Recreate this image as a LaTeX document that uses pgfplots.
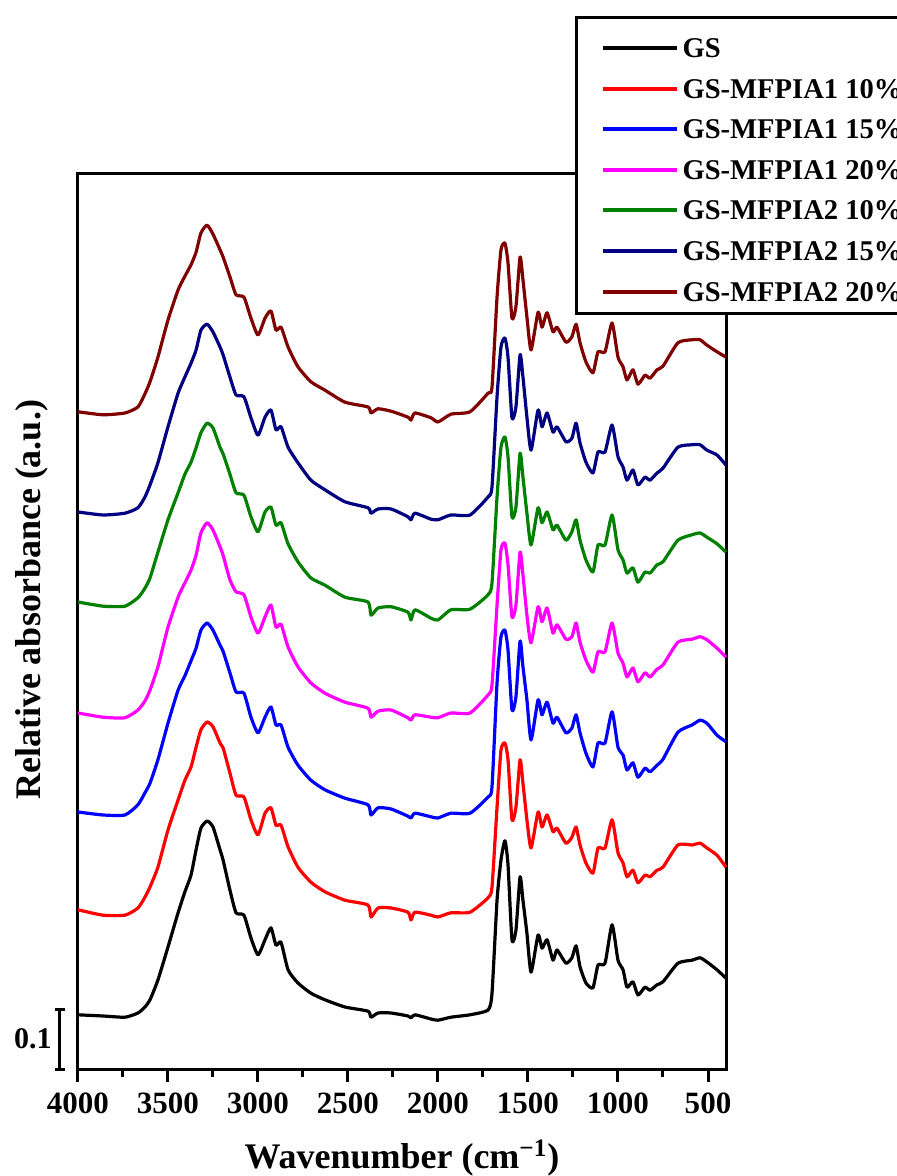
\documentclass[border=0pt]{standalone}
\usepackage{fontspec}
\setmainfont{Liberation Serif}
\usepackage{pgfplots}
\usepackage{pgfplotstable}
\pgfplotsset{compat=1.18}
\definecolor{cGreen}{RGB}{0,128,0}
\definecolor{cNavy}{RGB}{0,0,128}
\definecolor{cMaroon}{RGB}{128,0,0}
\definecolor{cRed}{RGB}{255,0,0}
\definecolor{cBlue}{RGB}{0,0,255}
\definecolor{cMag}{RGB}{255,0,255}

% wavenumber, stacked absorbance (a.u.) of the seven spectra
\pgfplotstableread{
wn gs aa ab ac ba bb bc
4000 0.092 0.267 0.430 0.595 0.780 0.930 1.097
3861 0.090 0.258 0.425 0.588 0.773 0.925 1.092
3739 0.088 0.258 0.425 0.587 0.773 0.928 1.095
3667 0.095 0.270 0.442 0.600 0.787 0.937 1.105
3628 0.105 0.288 0.462 0.615 0.803 0.955 1.127
3600 0.117 0.305 0.478 0.633 0.820 0.975 1.147
3556 0.150 0.338 0.517 0.672 0.863 1.012 1.188
3500 0.205 0.400 0.578 0.738 0.917 1.072 1.250
3444 0.262 0.450 0.633 0.788 0.962 1.128 1.300
3406 0.297 0.483 0.657 0.812 0.993 1.155 1.323
3372 0.325 0.505 0.682 0.833 1.013 1.178 1.342
3344 0.367 0.538 0.703 0.858 1.037 1.200 1.363
3317 0.403 0.567 0.733 0.895 1.062 1.233 1.395
3283 0.415 0.580 0.745 0.912 1.078 1.243 1.408
3250 0.405 0.572 0.733 0.900 1.070 1.230 1.393
3211 0.367 0.545 0.708 0.872 1.038 1.205 1.367
3194 0.350 0.537 0.698 0.858 1.027 1.192 1.355
3156 0.300 0.495 0.662 0.817 0.993 1.155 1.322
3122 0.262 0.458 0.630 0.797 0.962 1.125 1.292
3078 0.258 0.455 0.628 0.792 0.958 1.122 1.288
3039 0.220 0.417 0.588 0.755 0.922 1.087 1.253
3000 0.192 0.392 0.562 0.728 0.897 1.058 1.225
2961 0.217 0.428 0.588 0.755 0.930 1.088 1.253
2928 0.237 0.437 0.605 0.775 0.938 1.100 1.265
2900 0.208 0.408 0.575 0.738 0.908 1.067 1.233
2872 0.213 0.408 0.575 0.743 0.912 1.072 1.238
2833 0.167 0.372 0.538 0.705 0.877 1.038 1.205
2778 0.145 0.338 0.508 0.672 0.847 1.012 1.172
2706 0.128 0.313 0.483 0.645 0.820 0.983 1.147
2628 0.117 0.297 0.467 0.628 0.808 0.967 1.133
2517 0.105 0.283 0.453 0.613 0.788 0.947 1.113
2389 0.098 0.275 0.442 0.603 0.780 0.937 1.105
2372 0.088 0.255 0.425 0.588 0.758 0.928 1.095
2333 0.095 0.270 0.437 0.598 0.770 0.935 1.102
2261 0.095 0.270 0.435 0.600 0.772 0.935 1.098
2167 0.090 0.263 0.423 0.587 0.763 0.922 1.088
2150 0.087 0.250 0.420 0.583 0.750 0.917 1.083
2128 0.092 0.263 0.428 0.592 0.767 0.928 1.095
2039 0.085 0.258 0.422 0.588 0.753 0.918 1.087
2000 0.083 0.255 0.420 0.587 0.750 0.917 1.080
1928 0.088 0.262 0.428 0.595 0.767 0.925 1.093
1822 0.092 0.263 0.428 0.595 0.768 0.925 1.097
1722 0.100 0.287 0.455 0.625 0.792 0.955 1.128
1700 0.128 0.305 0.472 0.642 0.812 0.972 1.138
1672 0.283 0.438 0.645 0.775 0.955 1.122 1.288
1650 0.350 0.533 0.722 0.867 1.038 1.205 1.367
1628 0.382 0.545 0.733 0.878 1.055 1.220 1.378
1611 0.342 0.517 0.700 0.842 1.022 1.188 1.345
1589 0.217 0.417 0.600 0.755 0.922 1.087 1.253
1567 0.233 0.438 0.622 0.775 0.938 1.105 1.272
1544 0.322 0.517 0.715 0.863 1.028 1.192 1.355
1528 0.283 0.478 0.672 0.825 0.988 1.155 1.317
1506 0.228 0.417 0.617 0.758 0.928 1.088 1.255
1483 0.163 0.370 0.550 0.712 0.875 1.033 1.200
1444 0.225 0.430 0.617 0.772 0.937 1.100 1.263
1422 0.203 0.405 0.592 0.747 0.912 1.072 1.238
1394 0.217 0.425 0.613 0.770 0.930 1.095 1.262
1361 0.183 0.397 0.578 0.728 0.900 1.063 1.230
1339 0.200 0.403 0.588 0.742 0.908 1.072 1.238
1289 0.178 0.378 0.562 0.718 0.883 1.047 1.213
1256 0.187 0.388 0.570 0.722 0.897 1.053 1.222
1233 0.207 0.405 0.592 0.745 0.917 1.078 1.243
1211 0.172 0.375 0.562 0.713 0.883 1.045 1.212
1178 0.145 0.345 0.528 0.683 0.850 1.013 1.180
1139 0.137 0.328 0.505 0.663 0.830 0.995 1.162
1111 0.175 0.370 0.545 0.697 0.875 1.030 1.197
1072 0.178 0.370 0.545 0.697 0.875 1.030 1.197
1033 0.242 0.417 0.597 0.745 0.925 1.075 1.245
1000 0.183 0.362 0.538 0.695 0.867 1.022 1.188
972 0.167 0.345 0.525 0.678 0.850 1.005 1.172
950 0.138 0.322 0.500 0.655 0.828 0.983 1.150
917 0.147 0.333 0.512 0.670 0.837 1.000 1.167
889 0.125 0.312 0.488 0.647 0.813 0.975 1.143
850 0.138 0.325 0.503 0.662 0.830 0.988 1.158
822 0.133 0.322 0.497 0.655 0.828 0.983 1.153
783 0.142 0.333 0.508 0.668 0.842 0.995 1.167
750 0.147 0.338 0.518 0.675 0.847 1.003 1.173
667 0.178 0.375 0.563 0.713 0.883 1.038 1.212
589 0.183 0.375 0.575 0.718 0.892 1.042 1.217
544 0.187 0.378 0.583 0.722 0.895 1.042 1.217
506 0.180 0.370 0.578 0.717 0.888 1.033 1.208
450 0.167 0.358 0.558 0.703 0.877 1.025 1.197
400 0.153 0.338 0.547 0.688 0.863 1.008 1.188
}\spectra

\begin{document}
\begin{tikzpicture}
\path[use as bounding box] (0,0) rectangle (448pt,588pt);
\begin{axis}[
  at={(39pt,53pt)}, anchor=south west,
  scale only axis, width=324pt, height=448pt,
  xmin=400, xmax=4000, x dir=reverse,
  ymin=0, ymax=1.4933,
  xtick={500,1000,...,4000},
  minor x tick num=1,
  ytick=\empty,
  xtick pos=left,
  tick align=outside,
  major tick length=6pt, minor tick length=3.5pt,
  tick style={black, line width=1.5pt},
  axis line style={line width=1.5pt},
  clip=false,
  /pgf/number format/assume math mode=true,
  /pgf/number format/set thousands separator={},
  xticklabel style={font=\bfseries\fontsize{15.5}{18}\selectfont, yshift=-2pt},
  xlabel={Wavenumber (cm\textsuperscript{−1})},
  ylabel={Relative absorbance (a.u.)},
  xlabel style={at={(axis description cs:0.5,-0.0982)}, anchor=center, font=\bfseries\fontsize{18}{21}\selectfont},
  ylabel style={at={(axis description cs:-0.071,0.5246)}, anchor=center, font=\bfseries\fontsize{18}{21}\selectfont},
  legend style={at={(axis description cs:0.767,1.1763)}, anchor=north west,
    draw=black, line width=1.5pt, fill=white,
    font=\bfseries\fontsize{14.3}{17}\selectfont,
    inner xsep=12pt, inner ysep=4pt, row sep=2.3pt, column sep=2pt,
    cells={anchor=base west},
    nodes={inner sep=0pt, text height=16pt, text depth=2pt}},
  legend image code/.code={\draw[#1, line width=2pt] (0pt,4.8pt) -- (37pt,4.8pt);},
  every axis plot/.append style={line width=1.6pt, line join=round, smooth, tension=0.35},
]
\addplot[black] table[x=wn, y=gs] {\spectra};
\addlegendentry{GS}
\addplot[cRed] table[x=wn, y=aa] {\spectra};
\addlegendentry{GS-MFPIA1 10\%}
\addplot[cBlue] table[x=wn, y=ab] {\spectra};
\addlegendentry{GS-MFPIA1 15\%}
\addplot[cMag] table[x=wn, y=ac] {\spectra};
\addlegendentry{GS-MFPIA1 20\%}
\addplot[cGreen] table[x=wn, y=ba] {\spectra};
\addlegendentry{GS-MFPIA2 10\%}
\addplot[cNavy] table[x=wn, y=bb] {\spectra};
\addlegendentry{GS-MFPIA2 15\%}
\addplot[cMaroon] table[x=wn, y=bc] {\spectra};
\addlegendentry{GS-MFPIA2 20\%}
% scale bar
\draw[line width=1.5pt] (axis cs:4128,0) -- (axis cs:4072,0)
  (axis cs:4100,0) -- (axis cs:4100,0.1)
  (axis cs:4128,0.1) -- (axis cs:4072,0.1);
\node[anchor=east, inner sep=0pt, font=\bfseries\fontsize{15}{18}\selectfont] at ([xshift=-4pt]axis cs:4100,0.052) {0.1};
\end{axis}
\end{tikzpicture}
\end{document}
